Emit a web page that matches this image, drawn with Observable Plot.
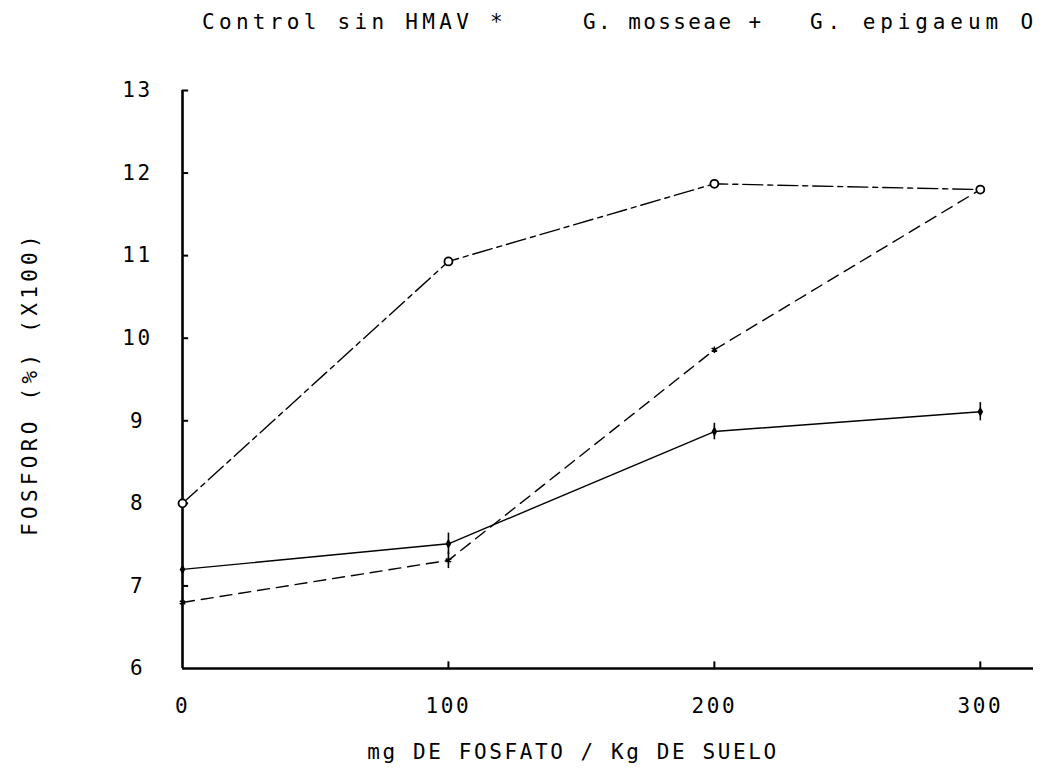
<!DOCTYPE html>
<html><head><meta charset="utf-8">
<script src="https://cdn.jsdelivr.net/npm/d3@7"></script>
<script src="https://cdn.jsdelivr.net/npm/@observablehq/plot@0.6"></script>
<style>
body{margin:0;background:#fff;font-family:"DejaVu Sans Mono",monospace;color:#000}
#legend{position:relative;height:42px;width:1041px}
#legend span{position:absolute;top:12px;font-size:21px;line-height:21px;white-space:pre}
#chart svg text{letter-spacing:2.6px}
</style></head><body>
<div id="legend"></div>
<div id="chart"></div>
<script>
// ---- data ----
const doses = [0, 100, 200, 300];
const seriesNames = ["Control sin HMAV", "G. mosseae", "G. epigaeum"];
const legendLabels = ["Control sin HMAV *", "G. mosseae +", "G. epigaeum O"];
const controlValues = [6.80, 7.31, 9.86, 11.80];
const mosseaeValues = [7.20, 7.51, 8.87, 9.11];
const epigaeumValues = [8.00, 10.93, 11.87, 11.80];
const controlErr = [0, 0.10, 0, 0];
const mosseaeErr = [0, 0.13, 0.10, 0.11];
const epigaeumErr = [0, 0, 0, 0];
const xTicks = [0, 100, 200, 300];
const yTicks = [6, 7, 8, 9, 10, 11, 12, 13];
const xMax = 320;
const xTitle = "mg DE FOSFATO / Kg DE SUELO";
const yTitle = "FOSFORO (%) (X100)";

// ---- legend (above the svg) ----
const legendX = [202, 583, 810];
const legendSpacing = [4.3, 2.4, 4.9];
const legend = document.getElementById("legend");
legendLabels.forEach((t, i) => {
  const s = document.createElement("span");
  s.textContent = t;
  s.style.left = legendX[i] + "px";
  s.style.letterSpacing = legendSpacing[i] + "px";
  legend.appendChild(s);
});

// ---- table ----
const valuesBySeries = [controlValues, mosseaeValues, epigaeumValues];
const errBySeries = [controlErr, mosseaeErr, epigaeumErr];
const rows = [];
seriesNames.forEach((name, s) => {
  doses.forEach((d, i) => rows.push({series: name, dose: d, value: valuesBySeries[s][i], err: errBySeries[s][i]}));
});
const of = name => rows.filter(r => r.series === name);

const font = {fontFamily: "DejaVu Sans Mono", fontSize: 21};

const chart = Plot.plot({
  width: 1041,
  height: 732,
  marginTop: 48,
  marginBottom: 106,
  marginLeft: 182,
  marginRight: 8,
  style: {fontFamily: "DejaVu Sans Mono", fontSize: "21px", background: "#fff", color: "#000"},
  x: {domain: [0, xMax], label: null},
  y: {domain: [yTicks[0], yTicks[yTicks.length - 1]], label: null},
  marks: [
    // axis lines
    Plot.ruleX([xTicks[0]], {y1: yTicks[0], y2: yTicks[yTicks.length - 1], strokeWidth: 2.6}),
    Plot.ruleY([yTicks[0]], {x1: xTicks[0], x2: xMax, strokeWidth: 2.6}),
    // inward ticks
    Plot.ruleY(yTicks.slice(1), {x1: 0, x2: 2.3, strokeWidth: 2}),
    Plot.ruleX(xTicks.slice(1), {y1: yTicks[0], y2: yTicks[0] + 0.08, strokeWidth: 2}),
    // tick labels
    Plot.axisY({ticks: yTicks, tickSize: 0, tickPadding: 45, textAnchor: "middle", tickFormat: d => String(d), label: null, ...font}),
    Plot.axisX({ticks: xTicks, tickSize: 0, tickPadding: 30, tickFormat: d => String(d), label: null, ...font}),
    // titles
    Plot.text([xTitle], {frameAnchor: "bottom", dx: -35, dy: 90, textAnchor: "middle", ...font}),
    Plot.text([yTitle], {frameAnchor: "left", rotate: -90, dx: -152, dy: 4, textAnchor: "middle", ...font}),
    // series lines
    Plot.line(of(seriesNames[0]), {x: "dose", y: "value", stroke: "#000", strokeWidth: 1.4, strokeDasharray: "12,7"}),
    Plot.line(of(seriesNames[1]), {x: "dose", y: "value", stroke: "#000", strokeWidth: 1.4}),
    Plot.line(of(seriesNames[2]), {x: "dose", y: "value", stroke: "#000", strokeWidth: 1.4, strokeDasharray: "20,5,5,5"}),
    // error bars
    Plot.ruleX(rows.filter(r => r.err > 0), {x: "dose", y1: r => r.value - r.err, y2: r => r.value + r.err, strokeWidth: 1.6}),
    // markers
    Plot.dot(of(seriesNames[0]), {x: "dose", y: "value", symbol: "asterisk", r: 3, stroke: "#000", strokeWidth: 1.5}),
    Plot.dot(of(seriesNames[1]), {x: "dose", y: "value", symbol: "diamond", r: 3, fill: "#000"}),
    Plot.dot(of(seriesNames[2]), {x: "dose", y: "value", symbol: "circle", r: 4, stroke: "#000", fill: "#fff", strokeWidth: 1.8})
  ]
});
document.getElementById("chart").appendChild(chart);
d3.select(chart).selectAll("text").filter(function() { return this.textContent === yTitle; }).style("letter-spacing", "4.3px");
</script>
</body></html>
